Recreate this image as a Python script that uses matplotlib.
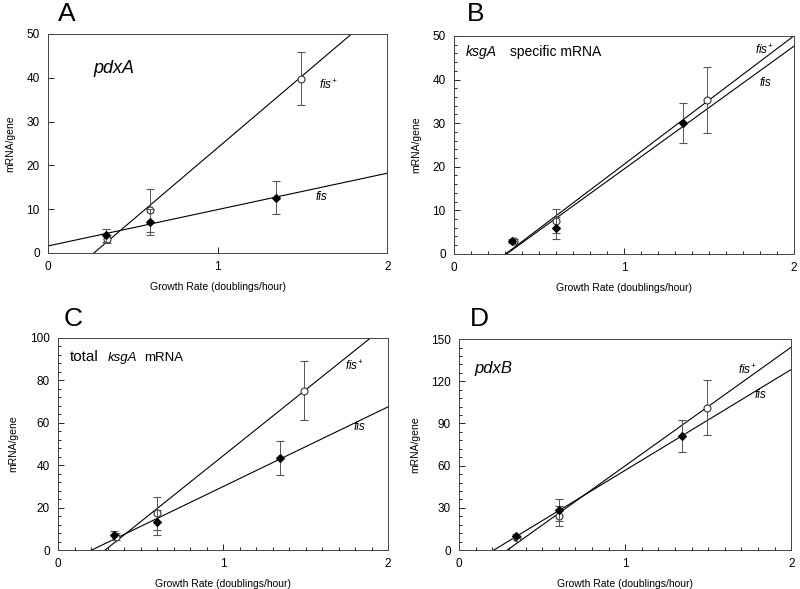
import numpy as np
import matplotlib.pyplot as plt
from matplotlib.ticker import MultipleLocator, NullLocator

plt.rcParams['font.family'] = ['Liberation Sans', 'DejaVu Sans']
plt.rcParams['mathtext.fontset'] = 'custom'
plt.rcParams['mathtext.it'] = 'Liberation Sans:italic'
plt.rcParams['mathtext.rm'] = 'Liberation Sans'

# growth rates (doublings/hour)
x_wt = [0.35, 0.60, 1.49]      # fis+  (open circles)
x_fis = [0.34, 0.60, 1.345]    # fis   (filled diamonds)

# panel A: pdxA
a_wt = [3.2, 9.7, 39.8]
a_wt_err = [1.0, 5.0, 6.0]
a_fis = [4.0, 7.1, 12.6]
a_fis_err = [1.5, 3.0, 3.8]
a_fit_wt = (32.9, -8.9)
a_fit_fis = (8.3, 1.6)

# panel B: ksgA specific mRNA
b_wt = [3.0, 7.5, 35.3]
b_wt_err = [0.4, 2.7, 7.6]
b_fis = [3.0, 5.9, 30.1]
b_fis_err = [0.4, 2.5, 4.6]
b_fit_wt = (29.5, -8.97)
b_fit_fis = (28.2, -8.75)

# panel C: total ksgA mRNA
c_wt = [6.3, 17.4, 75.2]
c_wt_err = [1.5, 7.8, 14.0]
c_fis = [6.9, 13.1, 43.2]
c_fis_err = [2.3, 6.0, 8.0]
c_fit_wt = (62.2, -17.8)
c_fit_fis = (37.6, -7.7)

# panel D: pdxB
d_wt = [8.3, 24.1, 101.3]
d_wt_err = [1.5, 7.0, 19.8]
d_fis = [9.9, 28.4, 81.1]
d_fis_err = [1.5, 8.0, 11.4]
d_fit_wt = (84.4, -24.5)
d_fit_fis = (71.7, -15.0)

panels = [
    dict(letter='A', rect=[0.060, 0.5705, 0.424, 0.372], ymax=50, ymaj=10, ymin=None, xmin=None,
         wt=a_wt, wte=a_wt_err, fis=a_fis, fise=a_fis_err, fwt=a_fit_wt, ffis=a_fit_fis,
         lwt=(1.60, 37.5), lfis=(1.58, 12.0), lpos=(0.072, 0.997)),
    dict(letter='B', rect=[0.5675, 0.569, 0.425, 0.370], ymax=50, ymaj=10, ymin=2, xmin=0.1,
         wt=b_wt, wte=b_wt_err, fis=b_fis, fise=b_fis_err, fwt=b_fit_wt, ffis=b_fit_fis,
         lwt=(1.77, 45.8), lfis=(1.80, 38.5), lpos=(0.583, 0.997)),
    dict(letter='C', rect=[0.0725, 0.0662, 0.4125, 0.360], ymax=100, ymaj=20, ymin=4, xmin=0.1,
         wt=c_wt, wte=c_wt_err, fis=c_fis, fise=c_fis_err, fwt=c_fit_wt, ffis=c_fit_fis,
         lwt=(1.74, 85.0), lfis=(1.79, 56.5), lpos=(0.080, 0.479)),
    dict(letter='D', rect=[0.574, 0.0662, 0.415, 0.358], ymax=150, ymaj=30, ymin=6, xmin=0.1,
         wt=d_wt, wte=d_wt_err, fis=d_fis, fise=d_fis_err, fwt=d_fit_wt, ffis=d_fit_fis,
         lwt=(1.68, 125.0), lfis=(1.78, 108.0), lpos=(0.587, 0.479)),
]

fig = plt.figure(figsize=(8.0, 5.89), dpi=100)

for p in panels:
    ax = fig.add_axes(p['rect'])
    xs = np.linspace(0, 2, 200)
    for (m, b) in (p['fwt'], p['ffis']):
        ax.plot(xs, m * xs + b, color='black', lw=0.8)
    ax.errorbar(x_wt, p['wt'], yerr=p['wte'], fmt='o', mfc='white', mec='#333333',
                ms=5, mew=0.8, ecolor='#555555', elinewidth=0.7, capsize=3, capthick=0.7, zorder=3)
    ax.errorbar(x_fis, p['fis'], yerr=p['fise'], fmt='D', mfc='black', mec='black',
                ms=4, mew=0.8, ecolor='#555555', elinewidth=0.7, capsize=3, capthick=0.7, zorder=4)
    ax.set_xlim(0, 2)
    ax.set_ylim(0, p['ymax'])
    ax.xaxis.set_major_locator(MultipleLocator(1))
    ax.yaxis.set_major_locator(MultipleLocator(p['ymaj']))
    if p['xmin']:
        ax.xaxis.set_minor_locator(MultipleLocator(p['xmin']))
    else:
        ax.xaxis.set_minor_locator(NullLocator())
    if p['ymin']:
        ax.yaxis.set_minor_locator(MultipleLocator(p['ymin']))
    else:
        ax.yaxis.set_minor_locator(NullLocator())
    ax.tick_params(which='major', direction='in', length=4, width=0.6, labelsize=8.5, pad=6)
    ax.tick_params(which='minor', direction='in', length=2.5, width=0.6)
    for s in ax.spines.values():
        s.set_linewidth(0.7)
        s.set_color('#444444')
    ax.set_xlabel('Growth Rate (doublings/hour)', fontsize=7.5, labelpad=6)
    ax.set_ylabel('mRNA/gene', fontsize=7.5, labelpad=8)
    ax.text(p['lwt'][0], p['lwt'][1], r'$\mathit{fis}^{+}$', fontsize=8.5)
    ax.text(p['lfis'][0], p['lfis'][1], 'fis', style='italic', fontsize=8.5)
    fig.text(p['lpos'][0], p['lpos'][1], p['letter'], fontsize=19, va='top', ha='left')

    if p['letter'] == 'A':
        ax.text(0.27, 41, 'pdxA', style='italic', fontsize=13)
    elif p['letter'] == 'B':
        ax.text(0.07, 45.5, 'ksgA', style='italic', fontsize=10)
        ax.text(0.33, 45.5, 'specific mRNA', fontsize=10)
    elif p['letter'] == 'C':
        ax.text(0.07, 89, 'total', fontsize=11)
        ax.text(0.30, 89, 'ksgA', style='italic', fontsize=9.5)
        ax.text(0.52, 89, 'mRNA', fontsize=9.5)
    else:
        ax.text(0.09, 126, 'pdxB', style='italic', fontsize=12)

fig.savefig('out.png', dpi=100)
